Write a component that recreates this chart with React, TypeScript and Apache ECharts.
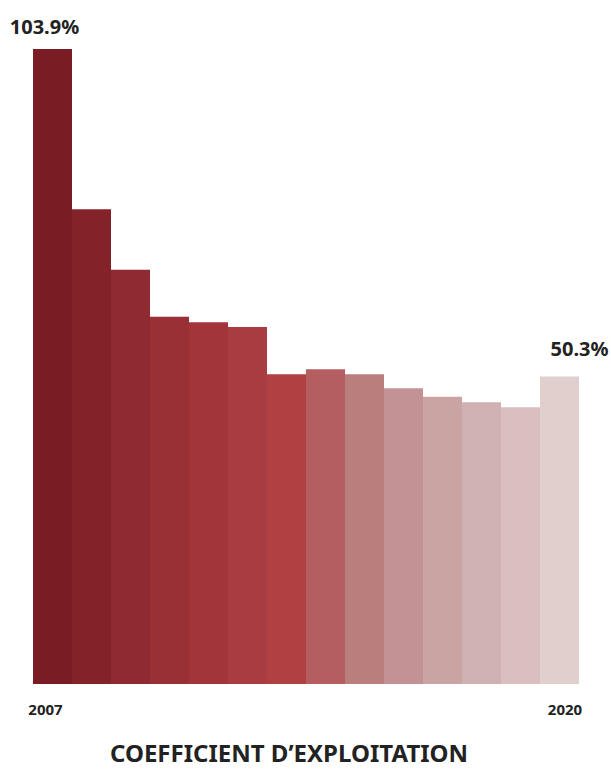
import React, { useEffect, useRef } from "react";
import * as echarts from "echarts";

const years = ["2007","2008","2009","2010","2011","2012","2013","2014","2015","2016","2017","2018","2019","2020"];
const values = [103.9, 77.7, 67.8, 60.1, 59.2, 58.4, 50.7, 51.5, 50.7, 48.4, 47.0, 46.1, 45.3, 50.3];
const colors = ["#7a1c24","#842229","#8f2a32","#993035","#a2353a","#a93c40","#b04042","#b45e60","#ba7e7c","#c29294","#c9a4a3","#d0b1b3","#dbbfc0","#e0cfcd"];
const title = "COEFFICIENT D’EXPLOITATION";
const FONT = "'Source Sans Pro', 'Noto Sans', sans-serif";

export default function App() {
  const ref = useRef<HTMLDivElement>(null);
  useEffect(() => {
    const chart = echarts.init(ref.current!, null, { renderer: "svg" });
    const last = values.length - 1;
    const yl = { fontFamily: FONT, fontSize: 15, fontWeight: "bold", color: "#222" };
    chart.setOption({
      animation: false,
      title: {
        text: title,
        left: 110,
        top: 740,
        padding: 0,
        textStyle: { fontFamily: FONT, fontSize: 24, lineHeight: 24, fontWeight: "bold", color: "#222" },
      },
      grid: { left: 33, right: 32, top: 49, bottom: 85 },
      xAxis: {
        type: "category",
        data: years,
        axisLine: { show: false },
        axisTick: { show: false },
        axisLabel: {
          interval: (i: number) => i === 0 || i === last,
          margin: 17,
          ...yl,
          formatter: (v: string, i: number) => (i === 0 ? "{a|" + v + "}" : i === last ? "{b|" + v + "}" : ""),
          rich: {
            a: { ...yl, padding: [0, 14, 0, 0] },
            b: { ...yl, padding: [0, 0, 0, 11] },
          },
        },
      },
      yAxis: { type: "value", min: 0, max: 103.9, show: false, splitLine: { show: false } },
      series: [
        {
          type: "bar",
          barCategoryGap: 0,
          data: values.map((v, i) => ({
            value: v,
            itemStyle: { color: colors[i] },
            label: {
              show: i === 0 || i === last,
              position: "top",
              distance: i === 0 ? 13 : 18,
              offset: i === 0 ? [-8, 0] : [20, 0],
              formatter: (p: any) => p.value.toFixed(1) + "%",
              fontFamily: FONT,
              fontSize: 20,
              fontWeight: "bold",
              color: "#222",
            },
          })),
        },
      ],
    });
    return () => chart.dispose();
  }, []);
  return <div ref={ref} style={{ width: 611, height: 769, position: "absolute", left: 0, top: 0 }} />;
}
